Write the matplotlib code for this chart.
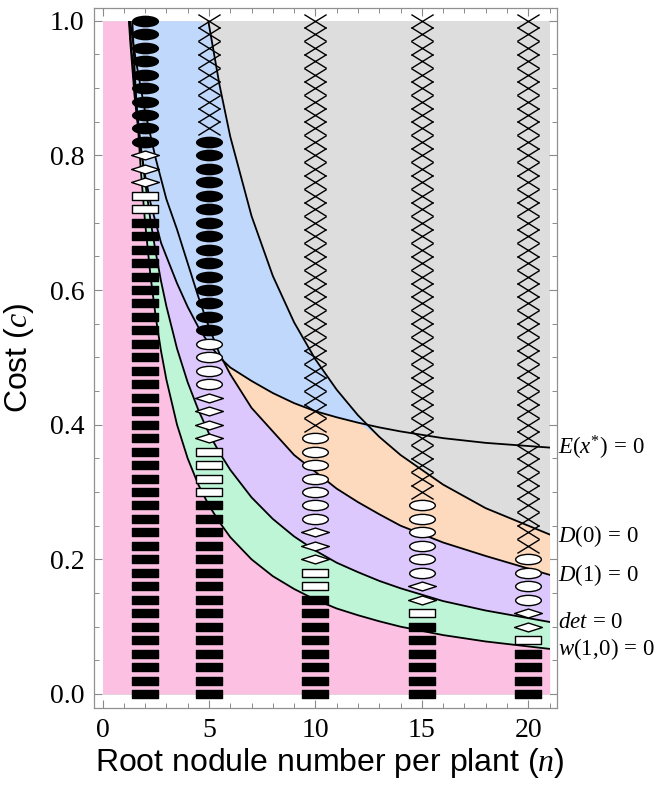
import numpy as np
import matplotlib
matplotlib.use("Agg")
import matplotlib.pyplot as plt
from matplotlib.path import Path
from matplotlib.patches import Rectangle
from matplotlib.ticker import MultipleLocator, FormatStrFormatter

plt.rcParams['mathtext.fontset'] = 'custom'
plt.rcParams['mathtext.rm'] = 'Liberation Serif'
plt.rcParams['mathtext.it'] = 'Liberation Serif:italic'
plt.rcParams['font.family'] = ['Liberation Sans', 'DejaVu Sans']

# ---- boundary curves ----
n_grid = [1.2, 1.3, 1.4, 1.5, 1.6, 1.8, 2.0, 2.25, 2.5, 2.75, 3.0, 3.5, 4.0, 4.5,
          5.0, 5.5, 6.0, 7.0, 8.0, 9.0, 10.0, 11.0, 12.0, 13.0, 14.0, 16.0, 18.0, 21.0]
w10 = [1.167, 1.077, 1.0, 0.933, 0.875, 0.778, 0.70, 0.622, 0.56, 0.509, 0.467, 0.40, 0.35, 0.311,
       0.28, 0.255, 0.233, 0.20, 0.175, 0.156, 0.14, 0.127, 0.117, 0.108, 0.10, 0.0875, 0.078, 0.067]
det = [1.025, 0.982, 0.943, 0.907, 0.873, 0.813, 0.761, 0.704, 0.656, 0.613, 0.576, 0.513, 0.463, 0.422,
       0.387, 0.358, 0.333, 0.292, 0.260, 0.234, 0.213, 0.195, 0.181, 0.168, 0.157, 0.138, 0.124, 0.107]
D1 = [1.05, 1.0, 0.975, 0.955, 0.935, 0.90, 0.865, 0.83, 0.795, 0.765, 0.735, 0.69, 0.64, 0.59,
      0.545, 0.505, 0.475, 0.425, 0.39, 0.355, 0.33, 0.305, 0.285, 0.267, 0.25, 0.225, 0.205, 0.177]
Ex = [1.02, 0.97, 0.93, 0.89, 0.86, 0.81, 0.77, 0.73, 0.70, 0.67, 0.65, 0.61, 0.575, 0.545,
      0.52, 0.50, 0.485, 0.465, 0.447, 0.432, 0.42, 0.411, 0.403, 0.396, 0.39, 0.38, 0.373, 0.366]
D0 = [4.142, 3.823, 3.55, 3.313, 3.106, 2.761, 2.485, 2.209, 1.988, 1.807, 1.657, 1.42, 1.243, 1.104,
      0.994, 0.904, 0.828, 0.71, 0.621, 0.552, 0.497, 0.452, 0.414, 0.382, 0.355, 0.311, 0.276, 0.237]

curve_labels = [r'$E(x^{*})\,=\,0$', r'$D(0)\,=\,0$', r'$D(1)\,=\,0$', r'$det\,=\,0$', r'$w(1,\!0)\,=\,0$']
label_c = [0.366, 0.234, 0.176, 0.107, 0.067]

# ---- simulation markers: counts per column, stacked from c=0 upward in steps of 0.02 ----
col_n = [2, 5, 10, 15, 20]
c_step = 0.02
n_black_rect = [36, 15, 8, 6, 4]
n_white_rect = [2, 4, 2, 1, 1]
n_diamond = [3, 4, 3, 2, 2]
n_white_ell = [0, 4, 7, 6, 4]
n_black_ell = [10, 15, 0, 0, 0]
n_cross = [0, 9, 31, 36, 40]

col_pink = '#FCC1E2'
col_green = '#BDF5D6'
col_purple = '#DCC8FC'
col_orange = '#FDD9BE'
col_blue = '#BFD8FB'
col_gray = '#DDDDDD'

fig = plt.figure(figsize=(6.6, 7.91), dpi=100)
ax = fig.add_axes([94/660, 1-708/791, (557-94)/660, 700/791])
ax.set_xlim(-0.4, 21.35)
ax.set_ylim(-0.0208, 1.0189)

N = np.array(n_grid)
nf = np.r_[0.0, N]
def ext(a):
    a = np.asarray(a, float)
    return np.r_[a[0], a]
W, DT, DD1, EE, DD0 = ext(w10), ext(det), ext(D1), ext(Ex), ext(D0)
clip1 = lambda a: np.clip(a, 0, 1)

ax.fill_between(nf, 0, 1, color=col_gray, lw=0, zorder=1)
ax.fill_between(nf, 0, clip1(DD0), color=col_blue, lw=0, zorder=2)
ax.fill_between(nf, 0, clip1(np.minimum(EE, DD0)), color=col_orange, lw=0, zorder=3)
ax.fill_between(nf, 0, clip1(np.minimum(EE, DD1)), color=col_purple, lw=0, zorder=4)
ax.fill_between(nf, 0, clip1(DT), color=col_green, lw=0, zorder=5)
ax.fill_between(nf, 0, clip1(W), color=col_pink, lw=0, zorder=6)

rect = Rectangle((0, 0), 21, 1, transform=ax.transData, fill=False, visible=False)
ax.add_patch(rect)
for cv in [Ex, D0, D1, det, w10]:
    ln, = ax.plot(N, cv, color='black', lw=1.3, zorder=7)
    ln.set_clip_path(rect)

for lab, yc in zip(curve_labels, label_c):
    ax.text(21.38, yc, lab, fontsize=16.5, va='center', ha='left', clip_on=False)

# marker shapes
def poly(pts):
    pts = list(pts) + [pts[0]]
    codes = [Path.MOVETO] + [Path.LINETO]*(len(pts)-2) + [Path.CLOSEPOLY]
    return Path(pts, codes)
rect_black = poly([(-1, -0.32), (1, -0.32), (1, 0.32), (-1, 0.32)])
rect_white = poly([(-1, -0.34), (1, -0.34), (1, 0.34), (-1, 0.34)])
diamond = poly([(-1, 0), (0, 0.32), (1, 0), (0, -0.32)])
circ = Path.unit_circle()
ellipse = Path(circ.vertices * np.array([1.0, 0.4]), circ.codes)
cross = Path([(-1, -0.62), (1, 0.62), (-1, 0.62), (1, -0.62)],
             [Path.MOVETO, Path.LINETO, Path.MOVETO, Path.LINETO])

styles = [
    (n_black_rect, rect_black, 'black', 18.5),
    (n_white_rect, rect_white, 'white', 18.5),
    (n_diamond, diamond, 'white', 20),
    (n_white_ell, ellipse, 'white', 18.5),
    (n_black_ell, ellipse, 'black', 18.5),
]
for j, n in enumerate(col_n):
    k = 0
    for counts, mk, fc, ms in styles + [(n_cross, cross, 'none', 16)]:
        cnt = counts[j]
        if cnt == 0:
            continue
        cs = [(k + i) * c_step for i in range(cnt)]
        xs = [n] * cnt
        if mk is cross:
            ax.plot(xs, cs, ls='none', marker=mk, ms=ms, mec='black', mew=1.0,
                    zorder=9, clip_on=False)
        else:
            ax.plot(xs, cs, ls='none', marker=mk, ms=ms, mfc=fc, mec='black', mew=1.0,
                    zorder=9, clip_on=False)
        k += cnt

# axes styling
for s in ax.spines.values():
    s.set_color('#909090')
    s.set_linewidth(0.9)
ax.xaxis.set_major_locator(MultipleLocator(5))
ax.xaxis.set_minor_locator(MultipleLocator(1))
ax.yaxis.set_major_locator(MultipleLocator(0.2))
ax.yaxis.set_minor_locator(MultipleLocator(0.05))
ax.yaxis.set_major_formatter(FormatStrFormatter('%.1f'))
ax.tick_params(which='both', direction='in', top=True, right=True, color='#8a8a8a')
ax.tick_params(which='major', length=6, width=0.8, pad=7)
ax.tick_params(which='minor', length=3.5, width=0.7)
for t in ax.get_xticklabels() + ax.get_yticklabels():
    t.set_fontfamily('Liberation Serif')
    t.set_fontsize(20)

ax.set_xlabel('Root nodule number per plant ($n$)', fontsize=23)
ax.xaxis.set_label_coords(0.51, -0.055)
ax.set_ylabel('Cost ($c$)', fontsize=23)
ax.yaxis.set_label_coords(-0.125, 0.5)

fig.savefig('out.png', dpi=100)
